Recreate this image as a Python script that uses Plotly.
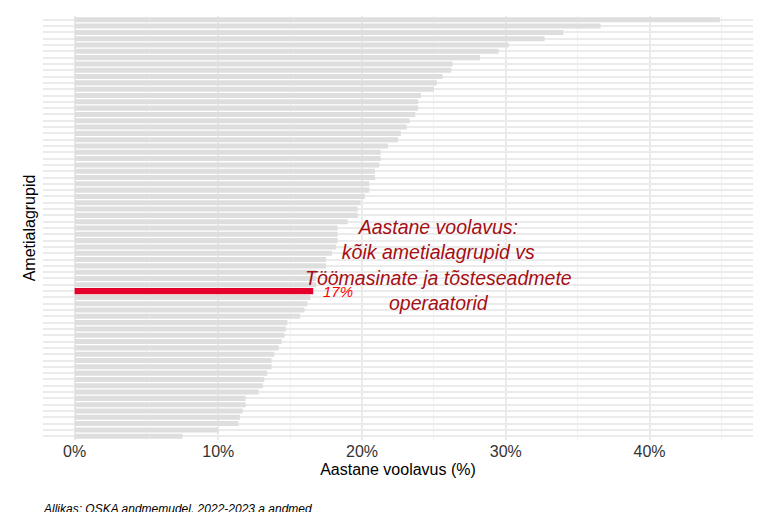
import plotly.graph_objects as go

# Aastane voolavus (%) per ametialagrupp, sorted from top to bottom
values = [44.9, 36.6, 34.0, 32.7, 30.2, 29.5, 28.2, 26.3, 26.2, 25.6, 25.2, 25.0,
          24.1, 23.9, 23.9, 23.7, 23.3, 23.1, 22.7, 22.5, 21.8, 21.3, 21.3, 21.2,
          20.9, 20.9, 20.5, 20.5, 20.2, 19.9, 19.7, 19.7, 19.0, 18.3, 18.3, 18.3,
          18.2, 17.9, 17.5, 17.5, 16.8, 16.8, 16.8, 16.6, 16.4, 16.2, 16.0, 15.7,
          14.8, 14.7, 14.6, 14.4, 14.2, 13.9, 13.7, 13.7, 13.4, 13.2, 13.1, 12.8,
          11.9, 11.9, 11.7, 11.5, 11.4, 10.0, 7.5]
highlight_index = 43
highlight_label = "17%"
x_ticks = [0, 10, 20, 30, 40]
x_tick_labels = ["0%", "10%", "20%", "30%", "40%"]

n = len(values)
pos = list(range(1, n + 1))
gray_pos = [p for i, p in enumerate(pos) if i != highlight_index]
gray_val = [v for i, v in enumerate(values) if i != highlight_index]

fig = go.Figure()
fig.add_trace(go.Bar(x=gray_val, y=gray_pos, orientation="h", width=0.8,
                     marker_color="#dedede", marker_line_width=0, hoverinfo="x"))
fig.add_trace(go.Bar(x=[values[highlight_index]], y=[pos[highlight_index]],
                     orientation="h", width=1.0, marker_color="#e4002b",
                     marker_line_width=0, hoverinfo="x"))

fig.add_annotation(x=values[highlight_index], y=pos[highlight_index], xref="x", yref="y",
                   showarrow=False, xanchor="left", xshift=8,
                   text="<i>" + highlight_label + "</i>",
                   font=dict(size=15, color="#ff0000", family="Liberation Sans"))
fig.add_annotation(x=25.3, y=pos[highlight_index] - 4.2, xref="x", yref="y", showarrow=False,
                   text="<i>Aastane voolavus:<br>kõik ametialagrupid vs<br>"
                        "Töömasinate ja tõsteseadmete<br>operaatorid</i>",
                   font=dict(size=19.5, color="#a50f15", family="Liberation Sans"),
                   align="center")
fig.add_annotation(x=0, y=0, xref="paper", yref="paper", yshift=-78, xshift=-2,
                   showarrow=False, xanchor="left", yanchor="bottom",
                   text="<i>Allikas: OSKA andmemudel, 2022-2023 a andmed</i>",
                   font=dict(size=12, color="black", family="Liberation Sans"))

fig.update_layout(
    width=768, height=512, showlegend=False, barmode="overlay",
    plot_bgcolor="white", paper_bgcolor="white",
    margin=dict(l=35, r=23, t=8, b=80),
    font=dict(family="Liberation Sans", color="black"),
    xaxis=dict(range=[-2.2, 47.2], tickvals=x_ticks, ticktext=x_tick_labels,
               tickfont=dict(size=16, color="#333333"), showline=False,
               gridcolor="#ebebeb", gridwidth=1.5, zeroline=False,
               minor=dict(dtick=5, showgrid=True, gridcolor="#f2f2f2", gridwidth=1),
               title=dict(text="Aastane voolavus (%)", font=dict(size=16), standoff=4)),
    yaxis=dict(range=[n + 0.6, 0.4], showticklabels=False, ticks="",
               tickmode="linear", tick0=1, dtick=1, gridcolor="#ebebeb",
               gridwidth=1.5, zeroline=False,
               title=dict(text="Ametialagrupid", font=dict(size=16), standoff=2)),
)

fig.write_html("out.html")
